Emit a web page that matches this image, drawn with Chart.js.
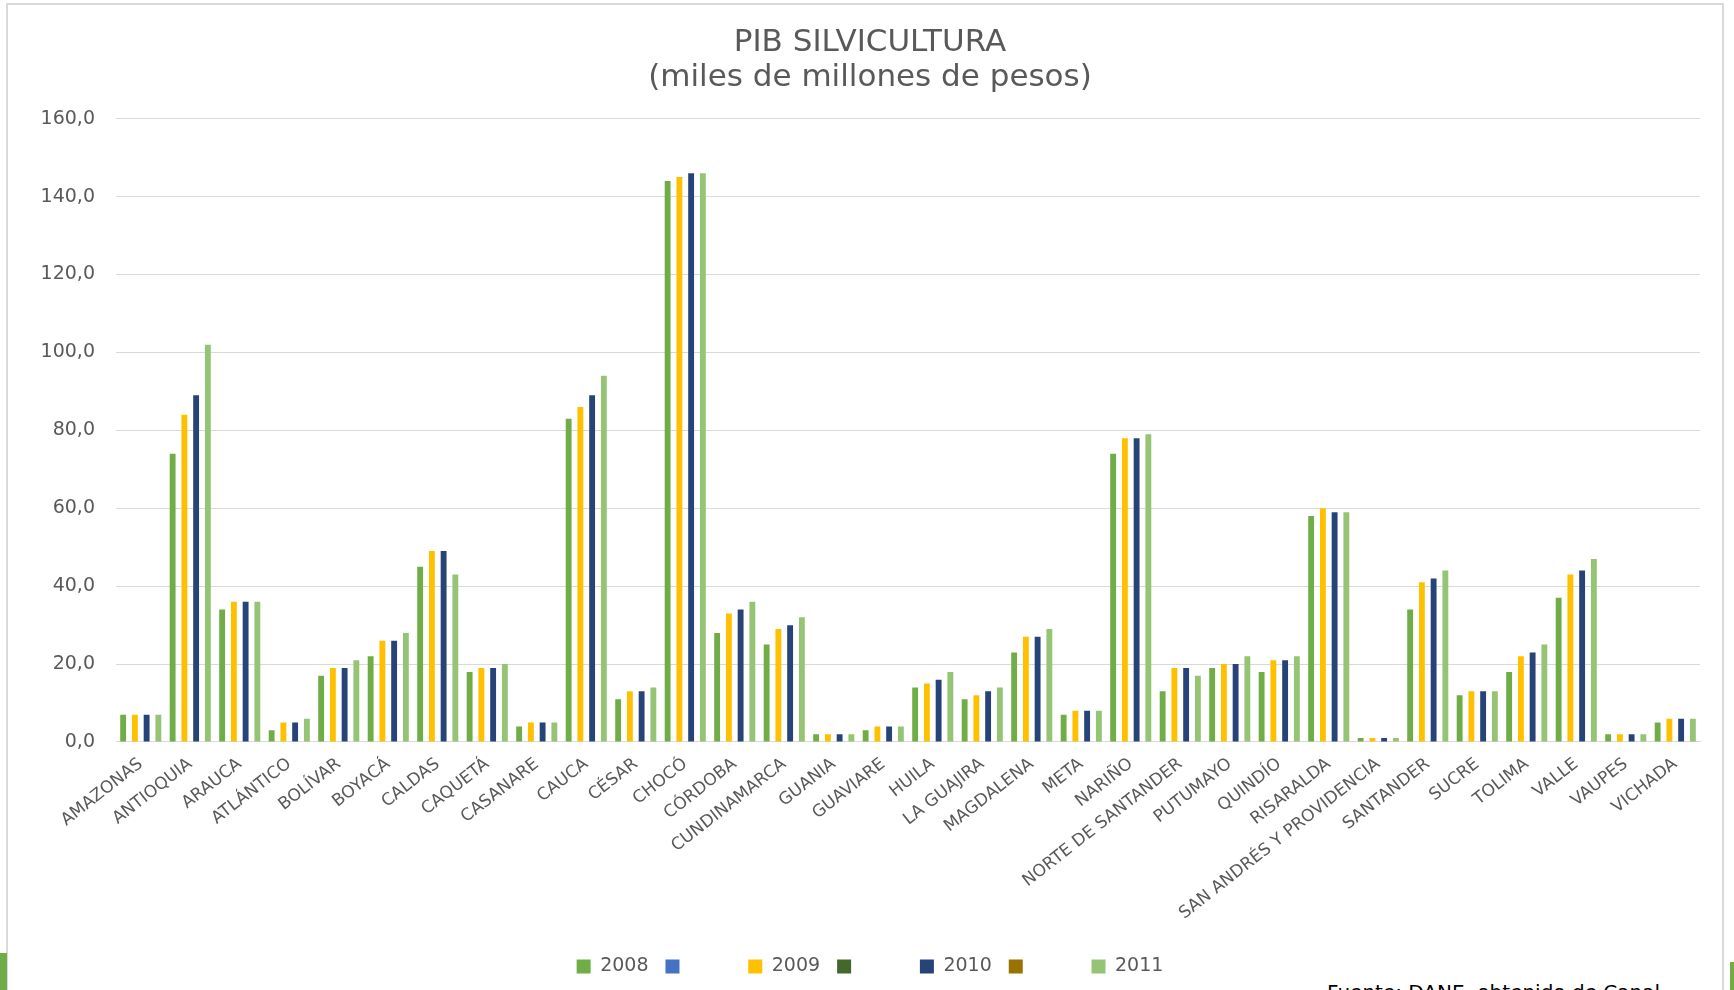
<!DOCTYPE html>
<html lang="es">
<head>
<meta charset="utf-8">
<title>PIB Silvicultura</title>
<script src="https://cdn.jsdelivr.net/npm/chart.js@4"></script>
<style>
    html, body { margin: 0; padding: 0; background: #fff; overflow: hidden; }
    body { width: 1734px; height: 990px; position: relative; }
    #marco { position: absolute; left: 6px; top: 3px; width: 1714px; height: 1000px; border: 2px solid #d9d9d9; }
    #wrap { position: absolute; left: 0; top: 0; width: 1734px; height: 990px; }
    .verde { position: absolute; background: #70AD47; }
    #fuente { position: absolute; left: 1327px; top: 980px; font: 20px "DejaVu Sans", sans-serif; color: #000; white-space: nowrap; }
</style>
</head>
<body>
<div id="marco"></div>
<div class="verde" style="left:0;top:953px;width:7px;height:37px"></div>
<div class="verde" style="left:1730px;top:962px;width:4px;height:28px"></div>
<div id="fuente">Fuente: DANE, obtenido de Canal</div>
<div id="wrap"><canvas id="pibChart" width="1734" height="990"></canvas></div>
<script>
// departamentos
const departamentos = ["AMAZONAS", "ANTIOQUIA", "ARAUCA", "ATLÁNTICO", "BOLÍVAR", "BOYACÁ", "CALDAS", "CAQUETÁ",
    "CASANARE", "CAUCA", "CÉSAR", "CHOCÓ", "CÓRDOBA", "CUNDINAMARCA", "GUANIA", "GUAVIARE", "HUILA",
    "LA GUAJIRA", "MAGDALENA", "META", "NARIÑO", "NORTE DE SANTANDER", "PUTUMAYO", "QUINDÍO", "RISARALDA",
    "SAN ANDRÉS Y PROVIDENCIA", "SANTANDER", "SUCRE", "TOLIMA", "VALLE", "VAUPES", "VICHADA"];

// PIB silvicultura por año (miles de millones de pesos)
const pib2008 = [7, 74, 34, 3, 17, 22, 45, 18, 4, 83, 11, 144, 28, 25, 2, 3, 14, 11, 23, 7, 74, 13, 19, 18, 58, 1, 34, 12, 18, 37, 2, 5];
const pib2009 = [7, 84, 36, 5, 19, 26, 49, 19, 5, 86, 13, 145, 33, 29, 2, 4, 15, 12, 27, 8, 78, 19, 20, 21, 60, 1, 41, 13, 22, 43, 2, 6];
const pib2010 = [7, 89, 36, 5, 19, 26, 49, 19, 5, 89, 13, 146, 34, 30, 2, 4, 16, 13, 27, 8, 78, 19, 20, 21, 59, 1, 42, 13, 23, 44, 2, 6];
const pib2011 = [7, 102, 36, 6, 21, 28, 43, 20, 5, 94, 14, 146, 36, 32, 2, 4, 18, 14, 29, 8, 79, 17, 22, 22, 59, 1, 44, 13, 25, 47, 2, 6];
const sinDatos = []; // series vacías de la hoja original (solo dejan hueco)

// eje y
const yMin = 0, yMax = 160, yPaso = 20;

const gris = "#595959";
const vacio = "       ";

const ctx = document.getElementById("pibChart").getContext("2d");
const pibChart = new Chart(ctx, {
    type: "bar",
    data: {
        labels: departamentos,
        datasets: [
            { label: "2008", data: pib2008, backgroundColor: "#70AD47" },
            { label: vacio, data: sinDatos, backgroundColor: "#4472C4" },
            { label: "2009", data: pib2009, backgroundColor: "#FFC000" },
            { label: vacio, data: sinDatos, backgroundColor: "#43682B" },
            { label: "2010", data: pib2010, backgroundColor: "#264478" },
            { label: vacio, data: sinDatos, backgroundColor: "#997300" },
            { label: "2011", data: pib2011, backgroundColor: "#94C474" }
        ]
    },
    options: {
        responsive: false,
        animation: false,
        datasets: { bar: { categoryPercentage: 0.83, barPercentage: 1.0 } },
        layout: { padding: { left: 40, right: 34, top: 0, bottom: 4 } },
        plugins: {
            title: {
                display: true,
                text: ["PIB SILVICULTURA", "(miles de millones de pesos)"],
                color: gris,
                font: { family: "'DejaVu Sans', sans-serif", size: 31, weight: "normal", lineHeight: 1.14 },
                padding: { top: 25, bottom: 23 }
            },
            legend: {
                position: "bottom",
                labels: {
                    color: gris,
                    font: { family: "'DejaVu Sans', sans-serif", size: 19 },
                    boxWidth: 14,
                    boxHeight: 14,
                    padding: 17
                }
            }
        },
        scales: {
            x: {
                grid: { display: false },
                border: { display: true, color: "#d9d9d9" },
                ticks: {
                    color: gris,
                    font: { family: "'DejaVu Sans', sans-serif", size: 17 },
                    minRotation: 38,
                    maxRotation: 38,
                    autoSkip: false,
                    padding: 4
                },
                afterFit(scale) { scale.height = 198; }
            },
            y: {
                min: yMin,
                max: yMax,
                border: { display: false },
                grid: { color: "#d9d9d9", drawTicks: false },
                ticks: {
                    stepSize: yPaso,
                    color: gris,
                    font: { family: "'DejaVu Sans', sans-serif", size: 19 },
                    padding: 21,
                    callback: v => v.toFixed(1).replace(".", ",")
                },
                afterFit(scale) { scale.width = 76; }
            }
        }
    }
});
</script>
</body>
</html>
